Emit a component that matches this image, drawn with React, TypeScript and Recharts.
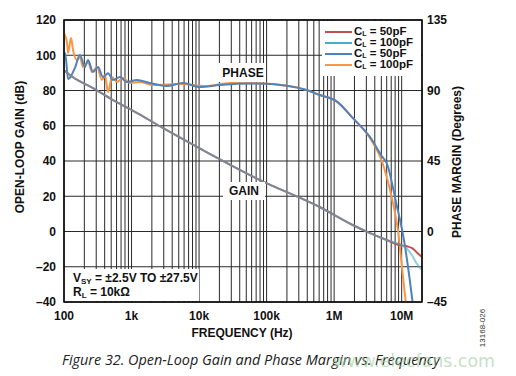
import { CartesianGrid, Line, LineChart, XAxis, YAxis } from "recharts"

// frequency axis (Hz), log scale
const decades = [100, 1000, 10000, 100000, 1000000, 10000000]
const decadeLabels = ["100", "1k", "10k", "100k", "1M", "10M"]
const freqMax = 20000000

const gainTicks = [-40, -20, 0, 20, 40, 60, 80, 100, 120]
const phaseTicks = [-45, 0, 45, 90, 135]

// open-loop gain (dB)
const gainFreq = [100, 136, 269, 531, 1000, 2900, 11400, 80000, 612000, 1880000, 3400000, 6000000, 9300000, 12000000, 14500000, 16500000, 20000000]
const gain50pF = [91.5, 87.5, 81.4, 74.6, 69, 58.8, 46.2, 29.2, 13.9, 3.7, -0.9, -4.8, -7.7, -8.4, -9.6, -11.6, -14.5]
const gain100pF = [91.5, 87.5, 81.4, 74.6, 69, 58.8, 46.2, 29.2, 13.9, 3.7, -0.9, -4.8, -7.2, -9.8, -14, -17.9, -21.8]

// phase margin (degrees)
const phase50Freq = [100, 104, 115, 145, 172, 204, 227, 269, 319, 378, 449, 532, 673, 852, 1200, 1870, 3340, 5760, 10200, 20200, 71000, 200000, 390000, 612000, 1100000, 1880000, 3400000, 5200000, 6000000, 8300000, 11000000, 13000000, 14500000]
const phase50pF = [112, 113.9, 97.3, 104.4, 112.7, 105, 109.5, 101.8, 105, 98.6, 101, 96.7, 98.6, 95.4, 96.7, 94.8, 92.9, 94.8, 92.2, 93.5, 94.4, 93, 90.3, 87.1, 82.9, 72.5, 60.3, 47.5, 43.7, 18.2, -7.3, -29, -45]

const phase100Freq = [100, 111, 115, 127, 136, 156, 172, 191, 227, 260, 308, 365, 404, 449, 514, 609, 746, 942, 1325, 2070, 5200, 13000, 28600, 88000, 200000, 390000, 612000, 1100000, 1880000, 3400000, 5200000, 7100000, 8800000, 10200000, 11500000]
const phase100pF = [126.7, 120.3, 113.9, 123.5, 115.9, 109.5, 111.4, 105, 108.2, 101.8, 105, 96.7, 99.9, 89, 98.6, 95.4, 98, 94.8, 95.4, 93.5, 94.2, 92.9, 94.8, 94.4, 93, 90.3, 87.1, 82.9, 72.5, 59.5, 43.7, 22, 1, -24.6, -45]

const toPoints = (fs: number[], vs: number[]) => fs.map((f, i) => ({ f, v: vs[i] }))

const gain50Data = toPoints(gainFreq, gain50pF)
const gain100Data = toPoints(gainFreq, gain100pF)
const phase50Data = toPoints(phase50Freq, phase50pF)
const phase100Data = toPoints(phase100Freq, phase100pF)

const freqTicks: number[] = []
decades.forEach((d) => {
  for (let k = 1; k <= 9; k++) if (d * k <= freqMax) freqTicks.push(d * k)
})

const fmtFreq = (v: number) => {
  const i = decades.indexOf(v)
  return i >= 0 ? decadeLabels[i] : ""
}
const fmtSigned = (v: number) => (v < 0 ? `\u2013${Math.abs(v)}` : `${v}`)

const font = "'Liberation Sans', Arial, sans-serif"
const tickStyle = { fill: "#111", fontSize: 12, fontWeight: 700, fontFamily: font }

const legendItems = [
  { color: "#c0504d", label: "50pF" },
  { color: "#4bacc6", label: "100pF" },
  { color: "#4f81bd", label: "50pF" },
  { color: "#f79646", label: "100pF" },
]

export default function App() {
  return (
    <div style={{ position: "absolute", left: 0, top: 0, width: 516, height: 376, background: "#fff", fontFamily: font }}>
      <LineChart width={516} height={376} margin={{ top: 20, right: 0, bottom: 0, left: 0 }}>
        <CartesianGrid yAxisId="gain" stroke="#2a2a2a" strokeWidth={1} />
        <XAxis
          dataKey="f"
          type="number"
          scale="log"
          domain={[100, freqMax]}
          ticks={freqTicks}
          tickFormatter={fmtFreq}
          interval={0}
          allowDataOverflow
          height={74}
          tickLine={false}
          axisLine={false}
          tickMargin={3}
          tick={tickStyle}
        />
        <YAxis
          yAxisId="gain"
          domain={[-40, 120]}
          ticks={gainTicks}
          tickFormatter={fmtSigned}
          interval={0}
          allowDataOverflow
          width={64}
          tickLine={false}
          axisLine={false}
          tick={tickStyle}
        />
        <YAxis
          yAxisId="phase"
          orientation="right"
          domain={[-45, 135]}
          ticks={phaseTicks}
          tickFormatter={fmtSigned}
          interval={0}
          allowDataOverflow
          width={94}
          tickLine={false}
          axisLine={false}
          tickSize={4}
          tickMargin={1}
          tick={{ ...tickStyle, textAnchor: "start" }}
        />
        <Line yAxisId="phase" data={phase100Data} dataKey="v" type="monotone" stroke="#f79646" strokeWidth={2} dot={false} isAnimationActive={false} />
        <Line yAxisId="phase" data={phase50Data} dataKey="v" type="monotone" stroke="#4f81bd" strokeWidth={2} dot={false} isAnimationActive={false} />
        <Line yAxisId="gain" data={gain50Data} dataKey="v" type="monotone" stroke="#c0504d" strokeWidth={2} dot={false} isAnimationActive={false} />
        <Line yAxisId="gain" data={gain100Data} dataKey="v" type="monotone" stroke="#4bacc6" strokeOpacity={0.6} strokeWidth={2} dot={false} isAnimationActive={false} />
      </LineChart>

      <svg width={516} height={376} style={{ position: "absolute", left: 0, top: 0, pointerEvents: "none" }} fontFamily={font}>
        <rect x={64} y={20} width={358} height={282} fill="none" stroke="#000" strokeWidth={1.5} />

        {/* legend */}
        <rect x={322} y={21} width={99} height={55} fill="#fff" />
        {legendItems.map((it, i) => (
          <g key={i}>
            <line x1={325} x2={352} y1={32 + i * 11} y2={32 + i * 11} stroke={it.color} strokeWidth={2} />
            <text x={354} y={31 + i * 11} dominantBaseline="central" fontSize={11.5} fontWeight={700} fill="#111">
              C<tspan fontSize={7} dy={2}>L</tspan>
              <tspan dy={-2}> = {it.label}</tspan>
            </text>
          </g>
        ))}

        <rect x={218} y={63} width={48} height={19} fill="#fff" />
        <text x={243} y={73} textAnchor="middle" dominantBaseline="central" fontSize={12} fontWeight={700} fill="#111">PHASE</text>

        <rect x={223} y={182} width={42} height={18} fill="#fff" />
        <text x={244} y={191} textAnchor="middle" dominantBaseline="central" fontSize={12} fontWeight={700} fill="#111">GAIN</text>

        <rect x={65} y={269} width={134} height={32} fill="#fff" />
        <text x={73} y={278} dominantBaseline="central" fontSize={12} fontWeight={700} fill="#111">
          V<tspan fontSize={8} dy={3}>SY</tspan>
          <tspan dy={-3}> = ±2.5V TO ±27.5V</tspan>
        </text>
        <text x={73} y={292} dominantBaseline="central" fontSize={12} fontWeight={700} fill="#111">
          R<tspan fontSize={8} dy={3}>L</tspan>
          <tspan dy={-3}> = 10kΩ</tspan>
        </text>

        <text transform="translate(20,147) rotate(-90)" textAnchor="middle" dominantBaseline="central" fontSize={12} fontWeight={700} fill="#111">OPEN-LOOP GAIN (dB)</text>
        <text transform="translate(457,162) rotate(-90)" textAnchor="middle" dominantBaseline="central" fontSize={12} fontWeight={700} fill="#111">PHASE MARGIN (Degrees)</text>
        <text x={242} y={333} textAnchor="middle" dominantBaseline="central" fontSize={12} fontWeight={700} fill="#111">FREQUENCY (Hz)</text>

        <text transform="translate(482,328) rotate(-90)" textAnchor="middle" dominantBaseline="central" fontSize={8} fill="#333">13168-026</text>

        <text x={62} y={359} dominantBaseline="central" fontSize={14} fontStyle="italic" fill="#222" textLength={378} lengthAdjust="spacingAndGlyphs" fontFamily="'Open Sans', 'Noto Sans', sans-serif">
          Figure 32. Open-Loop Gain and Phase Margin vs. Frequency
        </text>
        <text x={333} y={360} dominantBaseline="central" fontSize={18} fill="#9ccb9c" fillOpacity={0.6} textLength={162} lengthAdjust="spacingAndGlyphs" fontFamily="'DejaVu Sans', sans-serif">
          www.elecfans.com
        </text>
      </svg>
    </div>
  )
}
